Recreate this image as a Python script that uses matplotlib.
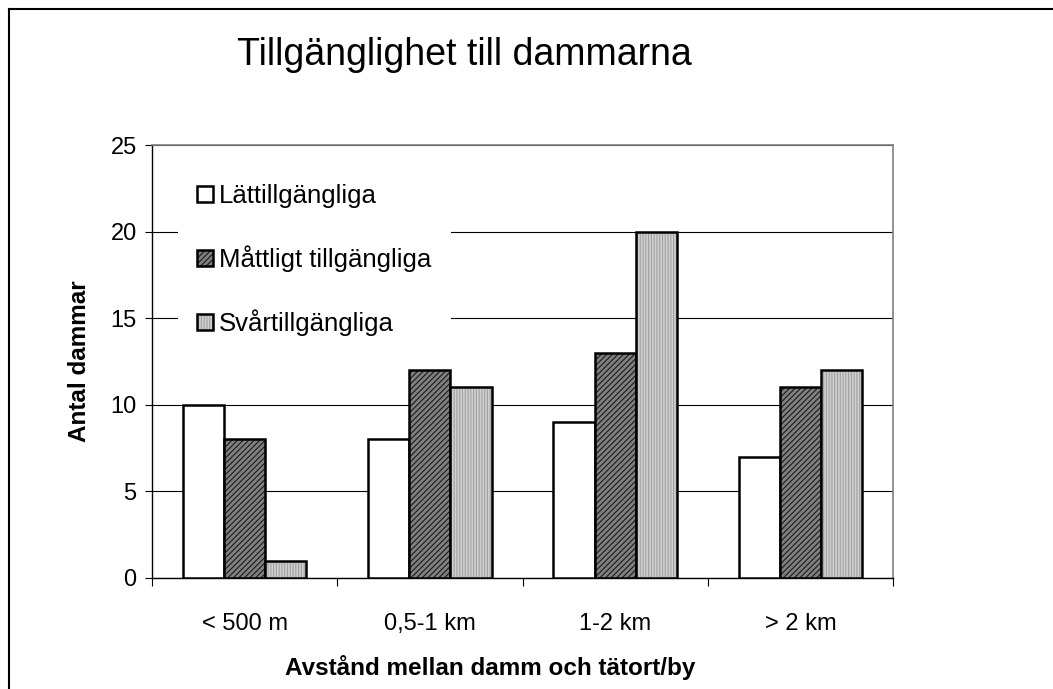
import numpy as np
import matplotlib
matplotlib.use('Agg')
import matplotlib.pyplot as plt
from matplotlib.lines import Line2D

plt.rcParams['font.family'] = ['Liberation Sans', 'DejaVu Sans']
plt.rcParams['hatch.linewidth'] = 0.8

categories = ['< 500 m', '0,5-1 km', '1-2 km', '> 2 km']
series_names = ['Lättillgängliga', 'Måttligt tillgängliga', 'Svårtillgängliga']
latt = [10, 8, 9, 7]
mattligt = [8, 12, 13, 11]
svar = [1, 11, 20, 12]

W, H = 1053, 689
fig = plt.figure(figsize=(W/100, H/100), dpi=100)
ax = fig.add_axes([152/W, 1-578/H, (893-152)/W, (578-145)/H])

x = np.arange(len(categories))
bw = 0.222
styles = [
    dict(facecolor='white', hatch=None, hcol='black'),
    dict(facecolor='#808080', hatch='//////', hcol='#1a1a1a'),
    dict(facecolor='#d0d0d0', hatch='||||||', hcol='#a0a0a0'),
]
for i, (vals, name, st) in enumerate(zip([latt, mattligt, svar], series_names, styles)):
    bars = ax.bar(x + (i-1)*bw, vals, bw, label=name, facecolor=st['facecolor'],
                  edgecolor='black', linewidth=1.8, hatch=st['hatch'], zorder=3)
    for b in bars:
        b._hatch_color = matplotlib.colors.to_rgba(st['hcol'])

ax.set_xlim(-0.5, len(categories)-0.5)
ax.set_ylim(0, 25)
ax.set_yticks(np.arange(0, 26, 5))
ax.yaxis.grid(True, color='black', linewidth=0.8, zorder=0)
ax.set_axisbelow(True)

ax.set_xticks(x)
ax.set_xticklabels(categories, fontsize=17)
ax.set_xticks(np.arange(-0.5, len(categories), 1), minor=True)
ax.tick_params(axis='x', which='major', length=0, pad=25)
ax.tick_params(axis='x', which='minor', length=6, direction='out', width=0.8)
ax.tick_params(axis='y', length=5, width=0.8, direction='out', labelsize=17, pad=6)

for s in ['top', 'right']:
    ax.spines[s].set_color('#808080')
    ax.spines[s].set_linewidth(1.2)
for s in ['left', 'bottom']:
    ax.spines[s].set_color('black')
    ax.spines[s].set_linewidth(1.0)

ax.set_ylabel('Antal dammar', fontsize=17.5, fontweight='bold')
ax.yaxis.set_label_coords((91-152)/(893-152), 0.5)
fig.text(490/W, 1-667/H, 'Avstånd mellan damm och tätort/by', fontsize=17.5,
         fontweight='bold', ha='center', va='center')
fig.text(464/W, 1-55/H, 'Tillgänglighet till dammarna', fontsize=27,
         ha='center', va='center')

leg = ax.legend(loc='upper left', bbox_to_anchor=(0.035, 0.955), fontsize=18.5,
                frameon=True, fancybox=False, edgecolor='none', framealpha=1,
                labelspacing=1.46, handlelength=0.6, handleheight=0.6,
                handletextpad=0.25, borderpad=0.75, borderaxespad=0)
leg.set_zorder(5)

# outer frame (top and left edges visible)
fig.add_artist(Line2D([9/W, 1.0], [1-9/H, 1-9/H], color='black', linewidth=1.5,
                      transform=fig.transFigure))
fig.add_artist(Line2D([9/W, 9/W], [0, 1-9/H], color='black', linewidth=1.5,
                      transform=fig.transFigure))

fig.savefig('out.png', dpi=100)
